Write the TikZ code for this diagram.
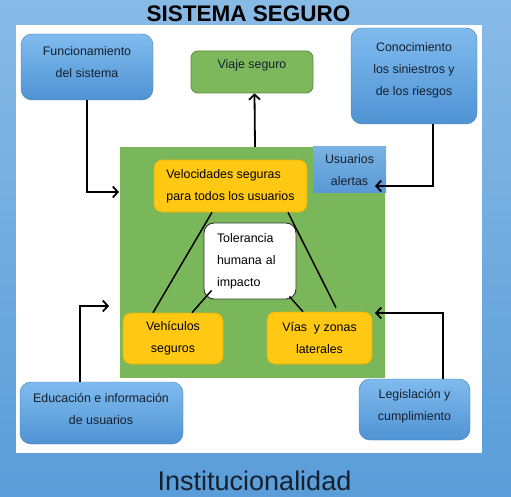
\documentclass[tikz,border=0pt]{standalone}
\usepackage{fontspec}
\setmainfont{Liberation Sans}
\usetikzlibrary{arrows.meta}
\definecolor{bgtop}{HTML}{88BAE6}
\definecolor{bgbot}{HTML}{5A9DD8}
\definecolor{bluetop}{HTML}{80BBEE}
\definecolor{bluebot}{HTML}{4F93D4}
\definecolor{coregreen}{HTML}{7AB75A}
\definecolor{viajegreen}{HTML}{7DB85C}
\definecolor{viajeline}{HTML}{5B8C3C}
\definecolor{yellowfill}{HTML}{FFC813}
\definecolor{yellowline}{HTML}{E8B20A}
\definecolor{inkblue}{HTML}{14202E}
\tikzset{
  txt/.style={align=center, font=\fontsize{12.4}{22}\selectfont, text=inkblue, inner sep=0pt},
  bluebox/.style={rounded corners=11pt, top color=bluetop, bottom color=bluebot, draw=bluebot!85!black, line width=0.4pt, inner sep=0pt},
  alertbox/.style={top color=bluetop!95!black, bottom color=bluebot!95!white, inner sep=0pt},
  yellowbox/.style={rounded corners=8pt, fill=yellowfill, draw=yellowline, line width=0.6pt, inner sep=0pt, font=\fontsize{12.4}{22}\selectfont},
  arr/.style={line width=1.8pt, -{Straight Barb[length=5pt,width=11pt]}},
  link/.style={line width=1.5pt}
}
\begin{document}
\begin{tikzpicture}[x=1pt, y=-1pt]
\useasboundingbox (0,0) rectangle (511,497);
\shade[top color=bgtop, bottom color=bgbot] (0,0) rectangle (511,497);
\fill[white] (16,25) rectangle (482,453);

\node[font=\fontsize{22.5}{26}\selectfont\bfseries, anchor=base] (title) at (248.5,22) {SISTEMA SEGURO};
\node[font=\fontsize{27}{30}\selectfont, text=inkblue, anchor=base] (inst) at (254.5,490) {Institucionalidad};

\node[bluebox, minimum width=132pt, minimum height=66pt] (func) at (87,67) {};
\node[txt] (funcT) at (87,62) {Funcionamiento\\del sistema};
\node[bluebox, minimum width=126pt, minimum height=96pt] (conoc) at (414,76) {};
\node[txt] (conocT) at (414,70) {Conocimiento\\los siniestros y\\de los riesgos};
\node[bluebox, minimum width=163pt, minimum height=62pt] (edu) at (101.5,413) {};
\node[txt] (eduT) at (101,409) {Educación e información\\de usuarios};
\node[bluebox, minimum width=111pt, minimum height=61pt] (leg) at (414.5,409.5) {};
\node[txt] (legT) at (414.5,406) {Legislación y\\cumplimiento};

\node[rounded corners=7pt, fill=viajegreen, draw=viajeline, line width=0.8pt, minimum width=122pt, minimum height=42pt] (viaje) at (252,72) {};
\node[txt] (viajeT) at (252,65) {Viaje seguro};

\node[fill=coregreen, minimum width=265pt, minimum height=231pt, inner sep=0pt] (core) at (252.5,262.5) {};
\node[alertbox, txt, minimum width=73pt, minimum height=46pt] (alert) at (349.5,170) {Usuarios\\alertas};

\node[yellowbox, align=left, minimum width=153pt, minimum height=52pt] (vel) at (230.5,186) {Velocidades seguras\\para todos los usuarios};
\node[rounded corners=10pt, fill=white, draw=black!80, line width=0.9pt, inner sep=0pt, minimum width=92pt, minimum height=76pt, text width=66pt, align=left, font=\fontsize{12.4}{22}\selectfont] (tol) at (250,261) {Tolerancia\\humana al\\impacto};
\node[yellowbox, align=center, minimum width=100pt, minimum height=51pt] (veh) at (173,338.5) {Vehículos\\seguros};
\node[yellowbox, align=center, minimum width=105pt, minimum height=52pt] (vias) at (319.5,338) {Vías\ \ y zonas\\laterales};

\draw[link] ([xshift=-18.5pt]vel.south) -- ([xshift=-20pt]veh.north);
\draw[link] ([xshift=57.5pt]vel.south) -- ([xshift=16.5pt,yshift=4pt]vias.north);
\draw[link] ([xshift=8pt,yshift=9pt]tol.south west) -- ([xshift=19pt]veh.north);
\draw[link] ([xshift=-7pt,yshift=3pt]tol.south east) -- ([xshift=-16.5pt]vias.north);

\coordinate (funcIn) at (119,192);
\coordinate (alertIn) at (375,186);
\coordinate (eduIn) at (109,306);
\coordinate (legIn) at (375,313);
\draw[arr] ([xshift=2.5pt]core.north) -- ([xshift=2.5pt]viaje.south);
\draw[arr] (func.south) |- (funcIn);
\draw[arr] ([xshift=19pt]conoc.south) |- (alertIn);
\draw[arr] ([xshift=-21.5pt]edu.north) |- (eduIn);
\draw[arr] ([xshift=28.5pt]leg.north) |- (legIn);
\end{tikzpicture}
\end{document}
